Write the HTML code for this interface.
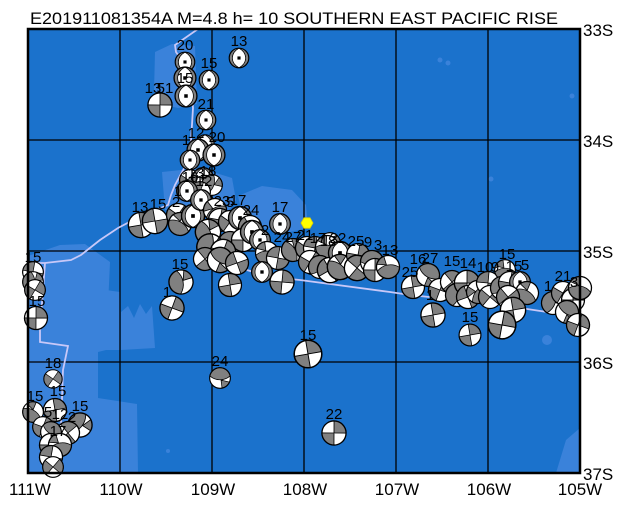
<!DOCTYPE html>
<html><head><meta charset="utf-8"><style>
html,body{margin:0;padding:0;background:#fff;}
svg{display:block;font-family:"Liberation Sans",sans-serif;}
</style></head><body>
<svg width="623" height="505" viewBox="0 0 623 505" xmlns="http://www.w3.org/2000/svg">
<defs>
<g id="N"><g transform="scale(1.15)"><circle r="10" fill="#808080"/><path d="M0,-10 C9,-5 9,5 0,10 C-9,5 -9,-5 0,-10Z" fill="#fff" stroke="#000" stroke-width=".7"/><circle r="10" fill="none" stroke="#000" stroke-width="1.2"/><rect x="-1.6" y="-1.6" width="3.2" height="3.2" fill="#000"/></g></g>
<g id="S"><g transform="scale(1.15)"><circle r="10" fill="#fff"/><path d="M0,0 L-1.7,-9.85 A10,10 0 0 1 9.85,-1.7 Z M0,0 L1.7,9.85 A10,10 0 0 1 -9.85,1.7Z" fill="#808080" stroke="#000" stroke-width=".7"/><circle r="10" fill="none" stroke="#000" stroke-width="1.1"/></g></g>
<g id="T"><g transform="scale(1.15)"><circle r="10" fill="#808080"/><path d="M0,0 L-1.7,-9.85 A10,10 0 0 1 9.85,-1.7 Z M0,0 L1.7,9.85 A10,10 0 0 1 -9.85,1.7Z" fill="#fff" stroke="#000" stroke-width=".7"/><circle r="10" fill="none" stroke="#000" stroke-width="1.1"/></g></g>
<g id="O"><g transform="scale(1.15)"><circle r="10" fill="#fff"/><path d="M2,-9.8 A10,10 0 0 1 2,9.8 C-3,4 -3,-4 2,-9.8Z" fill="#808080" stroke="#000" stroke-width=".7"/><path d="M-9.8,2 A10,10 0 0 0 -4,9.2 L-2,1 Z" fill="#808080" stroke="#000" stroke-width=".7"/><circle r="10" fill="none" stroke="#000" stroke-width="1.1"/></g></g>
</defs>

<text x="30" y="24" font-size="17" textLength="528" lengthAdjust="spacingAndGlyphs">E201911081354A  M=4.8  h=  10  SOUTHERN  EAST  PACIFIC  RISE</text>

<rect x="28" y="29" width="552" height="444" fill="#1b72cc"/>
<g fill="#3a82da">
<path d="M155,52 L172,44 L195,46 L197,104 L178,108 L160,104 L154,92Z"/>
<path d="M162,172 L200,168 L232,178 L236,200 L226,215 L196,216 L165,210Z"/>
<path d="M238,196 L262,186 L292,190 L306,205 L308,228 L290,232 L262,228 L242,214Z"/>
<path d="M28,256 L60,245 L85,244 L110,262 L106,350 L98,352 L98,398 L137,404 L138,473 L28,473Z"/>
<path d="M121,312 L128,306 L134,318 L140,304 L146,314 L152,306 L155,348 L121,350Z"/>
<path d="M106,290 L120,292 L120,350 L106,350Z"/>
<path d="M566,440 L580,428 L580,473 L556,473Z"/>
<circle cx="440" cy="60" r="2.5"/><circle cx="448" cy="63" r="2.5"/><circle cx="572" cy="96" r="2.5"/><circle cx="491" cy="179" r="2.5"/><circle cx="168" cy="451" r="2"/><circle cx="547" cy="340" r="5"/>
</g>

<g stroke="#000" stroke-width="1.3">
<line x1="120" y1="29" x2="120" y2="473"/>
<line x1="212" y1="29" x2="212" y2="473"/>
<line x1="304" y1="29" x2="304" y2="473"/>
<line x1="396" y1="29" x2="396" y2="473"/>
<line x1="488" y1="29" x2="488" y2="473"/>
<line x1="28" y1="140" x2="580" y2="140"/>
<line x1="28" y1="251" x2="580" y2="251"/>
<line x1="28" y1="362" x2="580" y2="362"/>
</g>

<g fill="none" stroke="#c8c8f8" stroke-width="1.8">
<polyline points="198,29 175,45 176,52 190,72 193,108 191,141 188,161 175,185 171,195 168,205 141,216 118,228 100,240 81,255 71,260 45,263 28,263"/>
<polyline points="45,263 40,330 40,342 68,346 63,370 61,427 60,473"/>
<polyline points="200,235 230,260 247,270 270,277 300,280 390,292 410,295 487,303 547,312 580,316"/>
</g>

<g>
<use href="#N" transform="translate(185,62) scale(.85)"/>
<use href="#N" transform="translate(209,80) scale(.85)"/>
<use href="#N" transform="translate(239,58) scale(.85)"/>
<use href="#N" transform="translate(185,78) scale(.95)"/>
<use href="#N" transform="translate(186,96) scale(.95)"/>
<use href="#S" transform="translate(160,105) rotate(10) scale(1.05)"/>
<use href="#N" transform="translate(206,120) scale(.85)"/>
<use href="#N" transform="translate(205,144) scale(.8)"/>
<use href="#N" transform="translate(198,150) scale(.95)"/>
<use href="#N" transform="translate(214,155) scale(.95)"/>
<use href="#N" transform="translate(190,160) scale(.85)"/>
<use href="#O" transform="translate(190,180) rotate(40) scale(.9)"/>
<use href="#N" transform="translate(203,178) scale(.9)"/>
<use href="#O" transform="translate(212,185) rotate(200) scale(.9)"/>
<use href="#T" transform="translate(200,192) rotate(30) scale(.9)"/>
<use href="#N" transform="translate(187,191) scale(.9)"/>
<use href="#N" transform="translate(205,205) scale(.9)"/>
<use href="#S" transform="translate(141,225) rotate(0) scale(1.1)"/>
<use href="#S" transform="translate(155,221) rotate(90) scale(1.1)"/>
<use href="#S" transform="translate(178,215) rotate(45) scale(1)"/>
<use href="#O" transform="translate(180,224) rotate(120) scale(1)"/>
<use href="#N" transform="translate(193,216) scale(1)"/>
<use href="#N" transform="translate(201,200) scale(.9)"/>
<use href="#O" transform="translate(215,210) rotate(60) scale(1)"/>
<use href="#S" transform="translate(220,220) rotate(20) scale(1)"/>
<use href="#S" transform="translate(230,222) rotate(45) scale(1)"/>
<use href="#N" transform="translate(240,218) scale(1)"/>
<use href="#O" transform="translate(208,232) rotate(160) scale(1.1)"/>
<use href="#S" transform="translate(250,227) rotate(70) scale(1)"/>
<use href="#O" transform="translate(230,243) rotate(250) scale(1)"/>
<use href="#S" transform="translate(243,240) rotate(10) scale(1)"/>
<use href="#N" transform="translate(252,232) scale(1)"/>
<use href="#O" transform="translate(210,247) rotate(200) scale(1.15)"/>
<use href="#S" transform="translate(223,252) rotate(30) scale(1.1)"/>
<use href="#N" transform="translate(260,240) scale(.9)"/>
<use href="#T" transform="translate(205,259) rotate(60) scale(1)"/>
<use href="#O" transform="translate(220,260) rotate(300) scale(1.1)"/>
<use href="#S" transform="translate(237,263) rotate(80) scale(1)"/>
<use href="#O" transform="translate(267,253) rotate(90) scale(1)"/>
<use href="#T" transform="translate(278,258) rotate(20) scale(1)"/>
<use href="#N" transform="translate(280,224) scale(.9)"/>
<use href="#O" transform="translate(293,250) rotate(150) scale(1)"/>
<use href="#S" transform="translate(307,248) rotate(45) scale(1)"/>
<use href="#O" transform="translate(320,252) rotate(210) scale(1)"/>
<use href="#O" transform="translate(330,243) rotate(30) scale(.9)"/>
<use href="#T" transform="translate(313,263) rotate(10) scale(1)"/>
<use href="#S" transform="translate(327,263) rotate(60) scale(1)"/>
<use href="#N" transform="translate(262,272) scale(.9)"/>
<use href="#S" transform="translate(282,282) rotate(15) scale(1.05)"/>
<use href="#O" transform="translate(181,282) rotate(170) scale(1.05)"/>
<use href="#S" transform="translate(172,308) rotate(30) scale(1.05)"/>
<use href="#S" transform="translate(230,285) rotate(0) scale(1)"/>
<use href="#O" transform="translate(220,378) rotate(270) scale(.9)"/>
<use href="#S" transform="translate(308,354) rotate(0) scale(1.2)"/>
<use href="#S" transform="translate(334,433) rotate(10) scale(1.05)"/>

<use href="#T" transform="translate(315,248) rotate(20) scale(1)"/>
<use href="#O" transform="translate(327,247) rotate(100) scale(1)"/>
<use href="#S" transform="translate(310,262) rotate(40) scale(1)"/>
<use href="#O" transform="translate(320,267) rotate(220) scale(1)"/>
<use href="#S" transform="translate(330,270) rotate(70) scale(1.1)"/>
<use href="#N" transform="translate(340,253) scale(1)"/>
<use href="#O" transform="translate(340,267) rotate(130) scale(1.1)"/>
<use href="#S" transform="translate(358,255) rotate(20) scale(1)"/>
<use href="#T" transform="translate(357,268) rotate(50) scale(1.1)"/>
<use href="#O" transform="translate(372,262) rotate(260) scale(1)"/>
<use href="#S" transform="translate(375,270) rotate(10) scale(1)"/>
<use href="#O" transform="translate(388,267) rotate(80) scale(1)"/>

<use href="#S" transform="translate(413,287) rotate(0) scale(1)"/>
<use href="#O" transform="translate(428,275) rotate(300) scale(1)"/>
<use href="#S" transform="translate(440,290) rotate(30) scale(1)"/>
<use href="#T" transform="translate(452,282) rotate(60) scale(1)"/>
<use href="#O" transform="translate(457,295) rotate(190) scale(1)"/>
<use href="#S" transform="translate(467,283) rotate(10) scale(1.1)"/>
<use href="#S" transform="translate(468,297) rotate(80) scale(1)"/>
<use href="#O" transform="translate(478,292) rotate(40) scale(1)"/>
<use href="#T" transform="translate(488,283) rotate(15) scale(1)"/>
<use href="#S" transform="translate(490,297) rotate(50) scale(1)"/>
<use href="#O" transform="translate(505,270) rotate(90) scale(.9)"/>
<use href="#O" transform="translate(502,288) rotate(230) scale(1)"/>
<use href="#S" transform="translate(510,283) rotate(20) scale(1)"/>
<use href="#N" transform="translate(520,282) scale(.9)"/>
<use href="#O" transform="translate(527,293) rotate(120) scale(1)"/>
<use href="#S" transform="translate(508,297) rotate(60) scale(1)"/>
<use href="#S" transform="translate(513,310) rotate(0) scale(1.1)"/>
<use href="#S" transform="translate(502,325) rotate(20) scale(1.2)"/>
<use href="#S" transform="translate(433,315) rotate(0) scale(1.05)"/>
<use href="#S" transform="translate(470,335) rotate(0) scale(.95)"/>
<use href="#O" transform="translate(553,303) rotate(200) scale(1)"/>
<use href="#S" transform="translate(563,293) rotate(40) scale(1)"/>
<use href="#S" transform="translate(573,300) rotate(10) scale(1)"/>
<use href="#O" transform="translate(567,312) rotate(300) scale(1)"/>
<use href="#O" transform="translate(580,288) rotate(100) scale(1)"/>
<use href="#S" transform="translate(578,325) rotate(30) scale(1)"/>

<use href="#T" transform="translate(33,272) rotate(20) scale(.9)"/>
<use href="#O" transform="translate(33,282) rotate(180) scale(.9)"/>
<use href="#S" transform="translate(35,290) rotate(40) scale(.9)"/>
<use href="#S" transform="translate(36,318) rotate(10) scale(1)"/>
<use href="#S" transform="translate(53,379) rotate(45) scale(.8)"/>
<use href="#O" transform="translate(33,412) rotate(120) scale(.9)"/>
<use href="#S" transform="translate(55,410) rotate(0) scale(1)"/>
<use href="#O" transform="translate(80,425) rotate(220) scale(1.05)"/>
<use href="#S" transform="translate(43,427) rotate(30) scale(.9)"/>
<use href="#T" transform="translate(68,433) rotate(60) scale(1)"/>
<use href="#O" transform="translate(51,432) rotate(300) scale(.9)"/>
<use href="#S" transform="translate(51,445) rotate(10) scale(1)"/>
<use href="#O" transform="translate(60,445) rotate(80) scale(1)"/>
<use href="#T" transform="translate(51,457) rotate(20) scale(1)"/>
<use href="#S" transform="translate(53,467) rotate(50) scale(.9)"/>
</g>

<polygon points="313,223 310,228.2 304,228.2 301,223 304,217.8 310,217.8" fill="#ffff00" stroke="#e0d000" stroke-width=".8"/>

<g font-size="15" text-anchor="middle" fill="#000">
<text x="185" y="50">20</text><text x="209" y="68">15</text><text x="239" y="46">13</text>
<text x="185" y="83">15</text>
<text x="153" y="93">13</text><text x="165" y="93">51</text>
<text x="206" y="109">21</text>
<text x="196" y="138">12</text><text x="217" y="142">20</text><text x="186" y="145">1</text>
<text x="208" y="176">18</text><text x="196" y="178">13</text><text x="190" y="182">16</text><text x="204" y="186">12</text>
<text x="178" y="196">1</text>
<text x="140" y="212">13</text><text x="158" y="209">15</text><text x="176" y="207">2</text>
<text x="222" y="206">23</text><text x="230" y="207">5</text><text x="238" y="205">17</text><text x="251" y="215">24</text>
<text x="280" y="212">17</text><text x="265" y="235">2</text>
<text x="282" y="242">24</text><text x="293" y="242">27</text><text x="305" y="240">21</text><text x="318" y="243">17</text><text x="328" y="246">18</text>
<text x="338" y="243">22</text><text x="356" y="246">25</text><text x="368" y="247">9</text><text x="378" y="250">3</text><text x="390" y="255">13</text>
<text x="180" y="269">15</text><text x="167" y="297">1</text><text x="220" y="366">24</text>
<text x="308" y="340">15</text><text x="334" y="419">22</text>
<text x="418" y="264">16</text><text x="430" y="263">27</text><text x="410" y="277">25</text>
<text x="452" y="266">15</text><text x="468" y="268">14</text><text x="485" y="272">10</text><text x="495" y="272">9</text>
<text x="507" y="259">15</text><text x="514" y="271">15</text><text x="525" y="270">5</text>
<text x="430" y="300">1</text><text x="470" y="322">15</text>
<text x="548" y="291">1</text><text x="563" y="281">21</text><text x="574" y="287">3</text>
<text x="33" y="262">15</text><text x="37" y="306">15</text><text x="53" y="368">18</text>
<text x="35" y="401">15</text><text x="58" y="396">15</text><text x="80" y="411">15</text>
<text x="48" y="417">5</text><text x="60" y="419">12</text><text x="72" y="422">2</text><text x="58" y="436">17</text>
</g>

<rect x="28" y="29" width="552" height="444" fill="none" stroke="#000" stroke-width="2.5"/>

<g font-size="17" fill="#000">
<text x="583" y="36">33S</text><text x="583" y="147">34S</text><text x="583" y="258">35S</text><text x="583" y="369">36S</text><text x="583" y="480">37S</text>
</g>
<g font-size="17" fill="#000" text-anchor="middle">
<text x="30" y="495">111W</text><text x="121" y="495">110W</text><text x="213" y="495">109W</text><text x="305" y="495">108W</text><text x="397" y="495">107W</text><text x="489" y="495">106W</text><text x="580" y="495">105W</text>
</g>
</svg>
</body></html>
